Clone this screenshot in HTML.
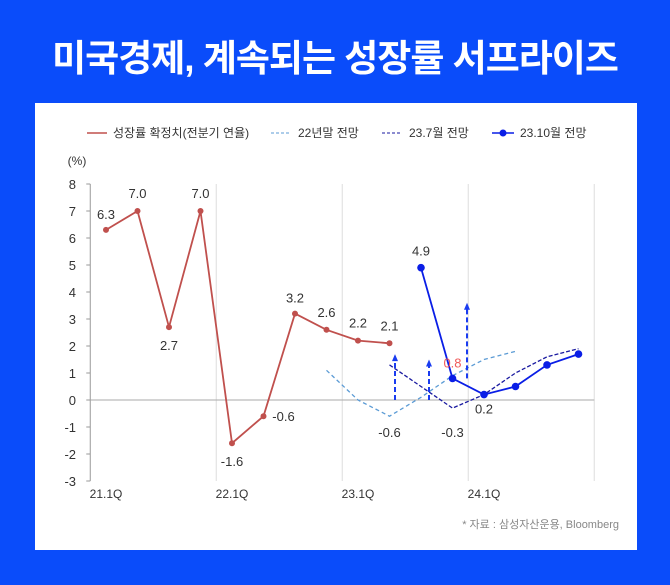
<!DOCTYPE html>
<html><head><meta charset="utf-8"><style>
body{margin:0;width:670px;height:585px;background:#0a4cfa;font-family:"Liberation Sans","Noto Sans CJK KR",sans-serif;overflow:hidden}
#title{position:absolute;left:0;top:28px;width:670px;text-align:center;color:#fff;font-size:37px;font-weight:bold;letter-spacing:-1px}
#panel{position:absolute;left:35px;top:103px;width:602px;height:447px;background:#fff}
svg{position:absolute;left:0;top:0}
text{font-family:"Liberation Sans","Noto Sans CJK KR",sans-serif}
</style></head><body>
<div id="title">미국경제, 계속되는 성장률 서프라이즈</div>
<div id="panel"></div>
<svg id="chart" width="670" height="585"></svg>
<script>
const quarters=["21.1Q","21.2Q","21.3Q","21.4Q","22.1Q","22.2Q","22.3Q","22.4Q","23.1Q","23.2Q","23.3Q","23.4Q","24.1Q","24.2Q","24.3Q","24.4Q"];
const actual=[6.3,7.0,2.7,7.0,-1.6,-0.6,3.2,2.6,2.2,2.1];
const f22=[null,null,null,null,null,null,null,1.1,0.0,-0.6,0.1,0.9,1.5,1.8,null,null];
const f237=[null,null,null,null,null,null,null,null,null,1.3,0.5,-0.3,0.2,1.0,1.6,1.9];
const f2310=[null,null,null,null,null,null,null,null,null,null,4.9,0.8,0.2,0.5,1.3,1.7];
const yTicks=[8,7,6,5,4,3,2,1,0,-1,-2,-3];
const xLabels=["21.1Q","22.1Q","23.1Q","24.1Q"];
const actualLabels=["6.3","7.0","2.7","7.0","-1.6","-0.6","3.2","2.6","2.2","2.1"];
const f2310Labels=["4.9","0.8","0.2"];

const svg=document.getElementById('chart');
const NS="http://www.w3.org/2000/svg";
const x=i=>106+i*31.5;
const y=v=>400-v*27;
function el(t,a,p){const e=document.createElementNS(NS,t);for(const k in a)e.setAttribute(k,a[k]);(p||svg).appendChild(e);return e;}
function txt(s,xx,yy,o){const e=el('text',Object.assign({x:xx,y:yy,'font-size':13,fill:'#333','text-anchor':'middle'},o||{}));e.textContent=s;return e;}

// grid
[-0.5,3.5,7.5,11.5,15.5].forEach((q,i)=>{const l=el('line',{x1:x(q),x2:x(q),y1:y(8),y2:y(-3),stroke:i==0?'#999':'#ddd','stroke-width':1});

});
const zl=el('line',{x1:x(-0.5),x2:x(15.5),y1:y(0),y2:y(0),stroke:'#aaa'});


yTicks.forEach(v=>{el('line',{x1:x(-0.5)-4,x2:x(-0.5),y1:y(v),y2:y(v),stroke:'#999'});
const t=txt(String(v),76,y(v)+5,{'text-anchor':'end'});

});
txt("(%)",77,165,{'font-size':12});
xLabels.forEach((s,i)=>{const t=txt(s,x(i*4),498,{'font-size':12});

});

function line(arr,o,name){let pts=[];arr.forEach((v,i)=>{if(v!=null)pts.push(x(i)+','+y(v));});
const p=el('polyline',Object.assign({points:pts.join(' '),fill:'none'},o));

}
line(f22,{stroke:'#5b9bd5','stroke-width':1.3,'stroke-dasharray':'4,3'},'series-22-forecast');
line(f237,{stroke:'#1a1aa0','stroke-width':1.3,'stroke-dasharray':'4,2'},'series-23-7-forecast');
line(actual,{stroke:'#c0504d','stroke-width':1.8},'series-actual');
line(f2310,{stroke:'#0a1ee6','stroke-width':1.8},'series-23-10-forecast');

// arrows
function arrow(xx,v0,v1){const a=el('line',{x1:xx,x2:xx,y1:y(v0),y2:y(v1)+6,stroke:'#1a3cf0','stroke-width':2,'stroke-dasharray':'5,3'});


el('polygon',{points:`${xx-3},${y(v1)+7} ${xx+3},${y(v1)+7} ${xx},${y(v1)}`,fill:'#1a3cf0'});}
arrow(395,0,1.7);arrow(429,0,1.5);arrow(467,0.8,3.6);

actual.forEach((v,i)=>{const c=el('circle',{cx:x(i),cy:y(v),r:3,fill:'#c0504d'});

});
f2310.forEach((v,i)=>{if(v==null)return;const c=el('circle',{cx:x(i),cy:y(v),r:3.8,fill:'#0a1ee6'});

});

const offs=[[0,-11],[0,-13],[0,23],[0,-13],[0,23],[20,5],[0,-11],[0,-13],[0,-13],[0,-13]];
actual.forEach((v,i)=>txt(actualLabels[i],x(i)+offs[i][0],y(v)+offs[i][1]));
txt(f2310Labels[0],x(10),y(4.9)-12);
txt(f2310Labels[1],x(11),y(0.8)-11,{fill:'#f05a5a'});
txt(f2310Labels[2],x(12)+0,y(0.2)+19);
txt("-0.6",x(9),y(-0.6)+21);txt("-0.3",x(11),y(-0.3)+29);

// legend
const lg=el('g',{});


el('line',{x1:87,x2:107,y1:133,y2:133,stroke:'#c0504d','stroke-width':1.5},lg);
txt("성장률 확정치(전분기 연율)",113,137,{'text-anchor':'start','font-size':12});
el('line',{x1:271,x2:291,y1:133,y2:133,stroke:'#5b9bd5','stroke-dasharray':'3,2'},lg);
txt("22년말 전망",298,137,{'text-anchor':'start','font-size':12});
el('line',{x1:382,x2:402,y1:133,y2:133,stroke:'#1a1aa0','stroke-dasharray':'3,2'},lg);
txt("23.7월 전망",409,137,{'text-anchor':'start','font-size':12});
el('line',{x1:492,x2:514,y1:133,y2:133,stroke:'#0a1ee6','stroke-width':1.5},lg);
el('circle',{cx:503,cy:133,r:3.5,fill:'#0a1ee6'},lg);
txt("23.10월 전망",520,137,{'text-anchor':'start','font-size':12});
const src=txt("* 자료 : 삼성자산운용, Bloomberg",619,528,{'text-anchor':'end','font-size':11,fill:'#888'});


</script>
</body></html>
